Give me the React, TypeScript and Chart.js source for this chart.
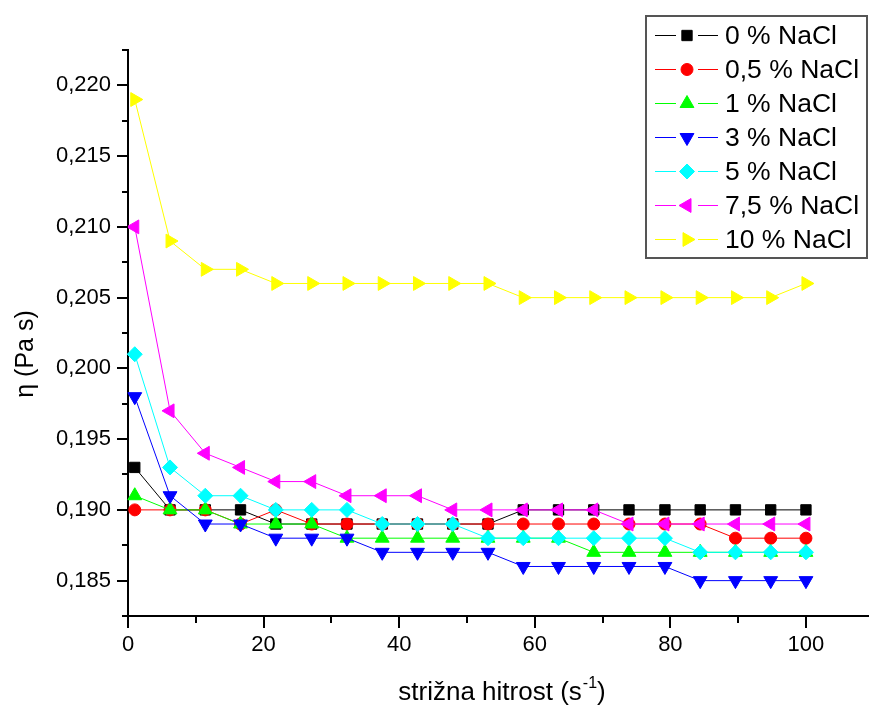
import React, { useEffect, useRef } from 'react';
import { Chart, registerables } from 'chart.js';
import { drawPoint } from 'chart.js/helpers';

Chart.register(...registerables);

// ---- data ----
const shearRate = [1, 6.2, 11.4, 16.6, 21.8, 27.1, 32.3, 37.5, 42.7, 47.9, 53.1, 58.3, 63.5, 68.7, 73.9, 79.2, 84.4, 89.6, 94.8, 100];

const nacl0 = [0.193, 0.190, 0.190, 0.190, 0.189, 0.189, 0.189, 0.189, 0.189, 0.189, 0.189, 0.190, 0.190, 0.190, 0.190, 0.190, 0.190, 0.190, 0.190, 0.190];
const nacl05 = [0.190, 0.190, 0.190, 0.189, 0.190, 0.189, 0.189, 0.189, 0.189, 0.189, 0.189, 0.189, 0.189, 0.189, 0.189, 0.189, 0.189, 0.188, 0.188, 0.188];
const nacl1 = [0.191, 0.190, 0.190, 0.189, 0.189, 0.189, 0.188, 0.188, 0.188, 0.188, 0.188, 0.188, 0.188, 0.187, 0.187, 0.187, 0.187, 0.187, 0.187, 0.187];
const nacl3 = [0.198, 0.191, 0.189, 0.189, 0.188, 0.188, 0.188, 0.187, 0.187, 0.187, 0.187, 0.186, 0.186, 0.186, 0.186, 0.186, 0.185, 0.185, 0.185, 0.185];
const nacl5 = [0.201, 0.193, 0.191, 0.191, 0.190, 0.190, 0.190, 0.189, 0.189, 0.189, 0.188, 0.188, 0.188, 0.188, 0.188, 0.188, 0.187, 0.187, 0.187, 0.187];
const nacl75 = [0.210, 0.197, 0.194, 0.193, 0.192, 0.192, 0.191, 0.191, 0.191, 0.190, 0.190, 0.190, 0.190, 0.190, 0.189, 0.189, 0.189, 0.189, 0.189, 0.189];
const nacl10 = [0.219, 0.209, 0.207, 0.207, 0.206, 0.206, 0.206, 0.206, 0.206, 0.206, 0.206, 0.205, 0.205, 0.205, 0.205, 0.205, 0.205, 0.205, 0.205, 0.206];

const seriesValues = [nacl0, nacl05, nacl1, nacl3, nacl5, nacl75, nacl10];
const seriesLabels = ['0 % NaCl', '0,5 % NaCl', '1 % NaCl', '3 % NaCl', '5 % NaCl', '7,5 % NaCl', '10 % NaCl'];

const xTickValues = [0, 10, 20, 30, 40, 50, 60, 70, 80, 90, 100];
const yTickValues = [0.1825, 0.185, 0.1875, 0.19, 0.1925, 0.195, 0.1975, 0.2, 0.2025, 0.205, 0.2075, 0.21, 0.2125, 0.215, 0.2175, 0.22, 0.2225];

const xTitle = 'strižna hitrost (s';
const xTitleSup = '-1';
const yTitle = 'η (Pa s)';

// ---- styles ----
const COLORS = ['#000000', '#FF0000', '#00FF00', '#0000FF', '#00FFFF', '#FF00FF', '#FFFF00'];
const MARKERS = [
  { pointStyle: 'rect', rotation: 0, radius: 7.3 },
  { pointStyle: 'circle', rotation: 0, radius: 6 },
  { pointStyle: 'triangle', rotation: 0, radius: 8 },
  { pointStyle: 'triangle', rotation: 180, radius: 8 },
  { pointStyle: 'rectRot', rotation: 0, radius: 7.5 },
  { pointStyle: 'triangle', rotation: 270, radius: 8 },
  { pointStyle: 'triangle', rotation: 90, radius: 8 },
];
const FONT = "'Liberation Sans', Arial, sans-serif";

const isMajorY = (v: number) => Math.round(v * 10000) % 50 === 0;
const isMajorX = (v: number) => Math.round(v) % 20 === 0;

const tickPlugin = {
  id: 'originTicks',
  afterDraw(chart: any) {
    const ctx = chart.ctx;
    const { left, bottom } = chart.chartArea;
    const xs = chart.scales.x;
    const ys = chart.scales.y;
    ctx.save();
    ctx.strokeStyle = '#000';
    ctx.lineWidth = 2;
    ctx.beginPath();
    ys.ticks.forEach((t: any) => {
      const py = Math.round(ys.getPixelForValue(t.value));
      const len = isMajorY(t.value) ? 11 : 6;
      ctx.moveTo(left, py);
      ctx.lineTo(left - len, py);
    });
    xs.ticks.forEach((t: any) => {
      const px = Math.round(xs.getPixelForValue(t.value));
      const len = isMajorX(t.value) ? 12 : 7;
      ctx.moveTo(px, bottom);
      ctx.lineTo(px, bottom + len);
    });
    ctx.stroke();

    // axis titles
    ctx.fillStyle = '#000';
    ctx.font = `26px ${FONT}`;
    const mainW = ctx.measureText(xTitle).width;
    ctx.font = `16px ${FONT}`;
    const supW = ctx.measureText(xTitleSup).width;
    ctx.font = `26px ${FONT}`;
    const closeW = ctx.measureText(')').width;
    const total = mainW + supW + closeW + 1;
    const cx = 502;
    let x0 = cx - total / 2;
    const baseY = 700;
    ctx.textBaseline = 'alphabetic';
    ctx.textAlign = 'left';
    ctx.fillText(xTitle, x0, baseY);
    x0 += mainW;
    ctx.font = `16px ${FONT}`;
    ctx.fillText(xTitleSup, x0 + 1, baseY - 12);
    x0 += supW + 1;
    ctx.font = `26px ${FONT}`;
    ctx.fillText(')', x0, baseY);

    ctx.save();
    ctx.translate(26, 354);
    ctx.rotate(-Math.PI / 2);
    ctx.font = `25px ${FONT}`;
    ctx.textAlign = 'center';
    ctx.textBaseline = 'middle';
    ctx.fillText(yTitle, 0, 0);
    ctx.restore();
    ctx.restore();
  },
};

const legendPlugin = {
  id: 'originLegend',
  afterDraw(chart: any) {
    const ctx = chart.ctx;
    ctx.save();
    ctx.strokeStyle = '#555555';
    ctx.lineWidth = 2;
    ctx.strokeRect(646, 16, 221, 242);
    seriesLabels.forEach((label, i) => {
      const y = 35 + i * 34;
      ctx.strokeStyle = COLORS[i];
      ctx.lineWidth = 1;
      ctx.beginPath();
      ctx.moveTo(655, y + 0.5);
      ctx.lineTo(676, y + 0.5);
      ctx.moveTo(698, y + 0.5);
      ctx.lineTo(718, y + 0.5);
      ctx.stroke();
      ctx.fillStyle = COLORS[i];
      drawPoint(ctx, { ...MARKERS[i], borderWidth: 1 } as any, 687, y + 0.5);
      ctx.fillStyle = '#000';
      ctx.font = `26.5px ${FONT}`;
      ctx.textAlign = 'left';
      ctx.textBaseline = 'middle';
      ctx.fillText(label, 725, y + 2);
    });
    ctx.restore();
  },
};

export default function App() {
  const ref = useRef<HTMLCanvasElement | null>(null);

  useEffect(() => {
    if (!ref.current) return;
    const datasets = seriesValues.map((vals, i) => ({
      label: seriesLabels[i],
      data: shearRate.map((x, j) => ({ x, y: vals[j] })),
      borderColor: COLORS[i],
      backgroundColor: COLORS[i],
      borderWidth: 1,
      pointStyle: MARKERS[i].pointStyle,
      rotation: MARKERS[i].rotation,
      pointRotation: MARKERS[i].rotation,
      pointRadius: MARKERS[i].radius,
      pointHoverRadius: MARKERS[i].radius,
      pointBorderWidth: 1,
      pointBorderColor: COLORS[i],
      pointBackgroundColor: COLORS[i],
      tension: 0,
      fill: false,
      clip: false as any,
      order: seriesValues.length - i,
    }));

    const chart = new Chart(ref.current, {
      type: 'line',
      data: { datasets },
      options: {
        animation: false,
        responsive: false,
        devicePixelRatio: 1,
        events: [],
        layout: { padding: { top: 50, right: 0, left: 0, bottom: 0 }, autoPadding: false },
        plugins: {
          legend: { display: false },
          tooltip: { enabled: false },
          title: { display: false },
        },
        scales: {
          x: {
            type: 'linear',
            min: 0,
            max: 109.3,
            afterBuildTicks: (s: any) => { s.ticks = xTickValues.map((v) => ({ value: v })); },
            afterFit: (s: any) => { s.height = 90; s.paddingLeft = 0; s.paddingRight = 0; },
            grid: { display: true, drawOnChartArea: false, drawTicks: true, tickLength: 12, color: 'rgba(0,0,0,0)' },
            border: { display: true, color: '#000', width: 2 },
            ticks: {
              autoSkip: false,
              maxRotation: 0,
              padding: 4,
              color: '#000',
              font: { family: FONT, size: 22 },
              callback: (v: any) => (isMajorX(Number(v)) ? String(v) : ''),
            },
          },
          y: {
            type: 'linear',
            min: 0.1825,
            max: 0.2225,
            afterBuildTicks: (s: any) => { s.ticks = yTickValues.map((v) => ({ value: v })); },
            afterFit: (s: any) => { s.width = 128; },
            grid: { display: true, drawOnChartArea: false, drawTicks: true, tickLength: 11, color: 'rgba(0,0,0,0)' },
            border: { display: true, color: '#000', width: 2 },
            ticks: {
              autoSkip: false,
              padding: 6,
              color: '#000',
              font: { family: FONT, size: 22 },
              callback: (v: any) => (isMajorY(Number(v)) ? Number(v).toFixed(3).replace('.', ',') : ''),
            },
          },
        },
      },
      plugins: [tickPlugin, legendPlugin],
    });
    return () => chart.destroy();
  }, []);

  return (
    <div style={{ position: 'absolute', left: 0, top: 0, width: 869, height: 706, background: '#fff' }}>
      <canvas ref={ref} width={869} height={706} style={{ display: 'block' }} />
    </div>
  );
}
